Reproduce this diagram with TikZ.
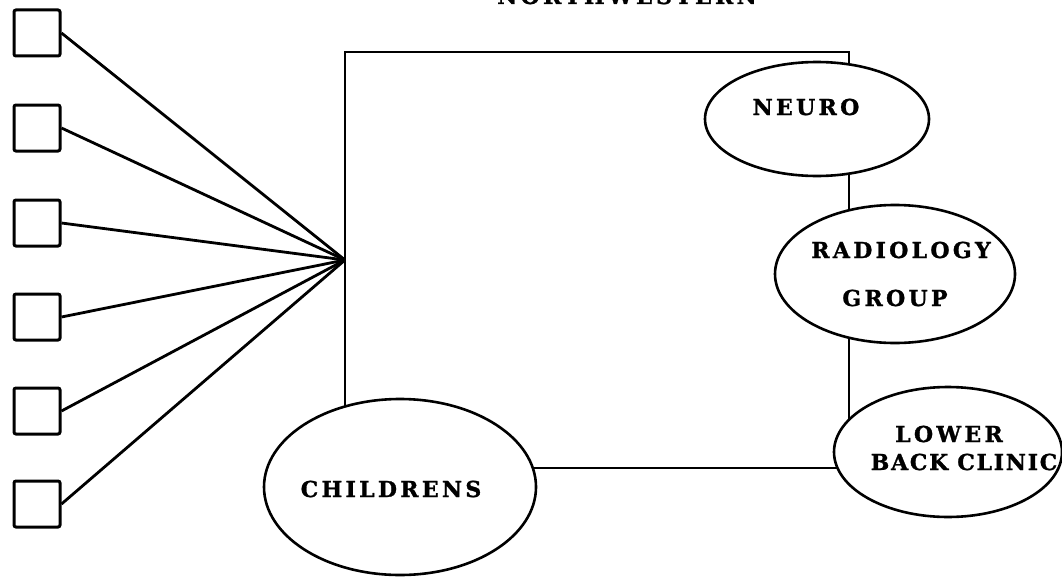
\documentclass[tikz,border=0pt]{standalone}
\usepackage{fontspec}
\setmainfont{Liberation Serif}
\newfontfamily\lblfont{DejaVu Serif Bold}[LetterSpace=15, FakeBold=1.2]
\newfontfamily\lblfonttight{DejaVu Serif Bold}[LetterSpace=8, FakeBold=1.2]
\usetikzlibrary{shapes.geometric,backgrounds}
\begin{document}
\begin{tikzpicture}[x=1pt,y=-1pt,
  sbox/.style={draw, rectangle, minimum size=46pt, inner sep=0pt, rounded corners=2pt, line width=3pt},
  oval/.style={draw, ellipse, fill=white, inner sep=0pt, line width=2.6pt},
  lbl/.style={font=\lblfont\fontsize{22}{22}\selectfont, inner sep=0pt},
  lbltight/.style={font=\lblfonttight\fontsize{22}{22}\selectfont, inner sep=0pt},
  link/.style={line width=2.8pt}]
\useasboundingbox (0,0) rectangle (1062,586);
% ellipses
\node[oval, minimum width=224pt, minimum height=114pt] (neuro) at (817,119) {};
\node[oval, minimum width=240pt, minimum height=138pt] (radio) at (895,274) {};
\node[oval, minimum width=228pt, minimum height=130pt] (lbc) at (948,452) {};
\node[oval, minimum width=272pt, minimum height=176pt] (ch) at (400,487) {};
% labels
\node[lbl] (tneuro) at (806,107) {NEURO};
\node[lbl] (tradioa) at (901,250) {RADIOLOGY};
\node[lbl] (tradiob) at (895,298) {GROUP};
\node[lbl] (tlbca) at (949,434) {LOWER};
\node[lbltight] (tlbcb) at (964,462) {BACK\hspace{9pt}CLINIC};
\node[lbl] (tch) at (391,489) {CHILDRENS};
\node[lbl, anchor=base] (title) at (627,4) {NORTHWESTERN};
% small boxes
\node[sbox] (b1) at (37,33) {};
\node[sbox] (b2) at (37,128) {};
\node[sbox] (b3) at (37,223) {};
\node[sbox] (b4) at (37,317) {};
\node[sbox] (b5) at (37,411) {};
\node[sbox] (b6) at (37,504) {};
% coordinates
\coordinate (hub) at (345,260);
\coordinate (tl) at (345,52);
\coordinate (tr) at (849,52);
\coordinate (br) at (849,468);
\begin{scope}[on background layer]
  \draw[link] (hub |- ch.center) -- (tl) -- (tr) -- (br) -- (br -| ch.center);
  \foreach \i in {1,...,6} \draw[link] (b\i.east) -- (hub);
\end{scope}
\end{tikzpicture}
\end{document}
